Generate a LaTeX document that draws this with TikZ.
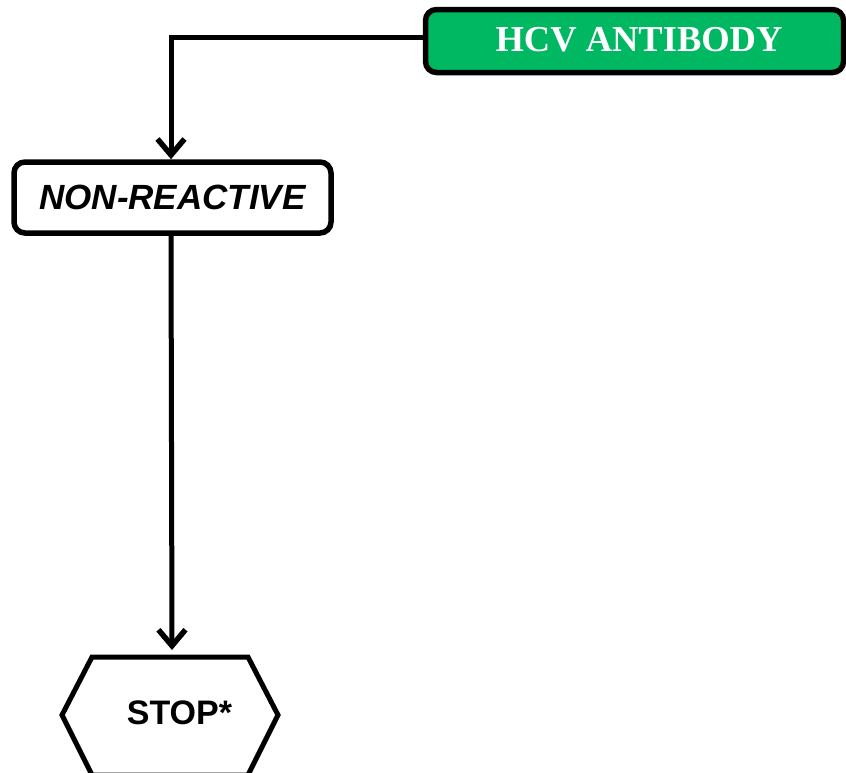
\documentclass[tikz,border=0pt]{standalone}
\usepackage{fontspec}
\setmainfont{Liberation Serif}
\setsansfont{Liberation Sans}
\usetikzlibrary{arrows.meta}
\definecolor{hcvgreen}{RGB}{0,184,98}
\begin{document}
\begin{tikzpicture}[x=1pt,y=-1pt,
  box/.style={draw=black,line width=5.5pt,rounded corners=11pt,inner sep=0pt},
  conn/.style={line width=5pt,-{Straight Barb[length=16pt,width=27pt,line width=5.5pt]}}]
\useasboundingbox (0,0) rectangle (846,772);
\node[box,fill=hcvgreen,minimum width=418pt,minimum height=63pt,
      font=\rmfamily\bfseries\fontsize{36.5}{40}\selectfont,text=white]
      (hcv) at (634.5,41) {\hspace*{9pt}\raisebox{3pt}{HCV ANTIBODY}};
\node[box,fill=white,minimum width=317pt,minimum height=71pt,
      font=\sffamily\bfseries\itshape\fontsize{35}{38}\selectfont]
      (nr) at (172.5,197.5) {NON-REACTIVE};
\coordinate (stoptop) at (172,657);
\draw[line width=5pt,line join=miter] (92,657) -- (248,657) -- (278,715) -- (248,775) -- (92,775) -- (62,715) -- cycle;
\node[font=\sffamily\bfseries\fontsize{34}{36}\selectfont,inner sep=0pt] (stop) at (179.5,713) {STOP*};
\draw[conn] ([yshift=3.5pt]hcv.west) -| ([xshift=-1.5pt]nr.north);
\draw[conn] ([xshift=-1.5pt]nr.south) -- ([yshift=7pt]stoptop);
\end{tikzpicture}
\end{document}
